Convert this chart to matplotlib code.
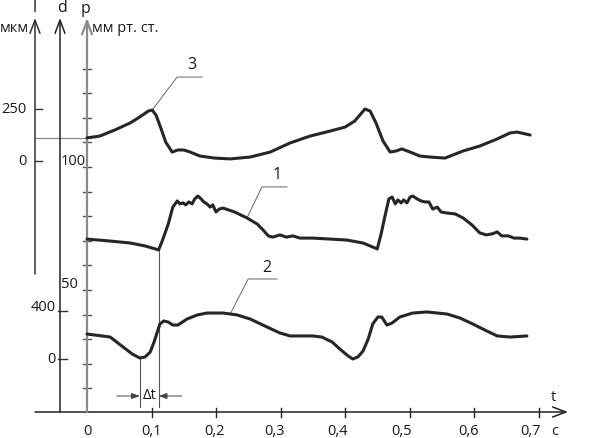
import numpy as np
import matplotlib
matplotlib.use("Agg")
import matplotlib.pyplot as plt

# ---------------- data ----------------
# curve 3 : l, мкм
t3 = [0.000, 0.020, 0.043, 0.067, 0.082, 0.095, 0.101, 0.107, 0.115, 0.122,
      0.132, 0.141, 0.150, 0.160, 0.175, 0.198, 0.222, 0.253, 0.284, 0.315,
      0.346, 0.377, 0.400, 0.415, 0.431, 0.439, 0.448, 0.459, 0.470, 0.479,
      0.488, 0.501, 0.516, 0.532, 0.555, 0.583, 0.609, 0.636, 0.656, 0.667,
      0.687]
l3 = [111, 120, 149, 183, 212, 240, 245, 221, 154, 91,
      43, 53, 53, 43, 24, 14, 10, 19, 43, 87,
      120, 144, 163, 192, 250, 240, 183, 96, 43, 48,
      58, 43, 24, 19, 14, 48, 72, 106, 135, 139,
      125]

# curve 1 : p, мм рт. ст.
t1 = [0.000, 0.036, 0.067, 0.090, 0.111, 0.116, 0.126, 0.133, 0.140, 0.144,
      0.149, 0.153, 0.158, 0.163, 0.167, 0.172, 0.177, 0.181, 0.186, 0.191,
      0.195, 0.200, 0.205, 0.211, 0.229, 0.248, 0.264, 0.273, 0.281, 0.288,
      0.299, 0.309, 0.319, 0.330, 0.350, 0.377, 0.403, 0.428, 0.450, 0.456,
      0.462, 0.468, 0.473, 0.478, 0.482, 0.487, 0.491, 0.496, 0.501, 0.505,
      0.512, 0.518, 0.524, 0.530, 0.536, 0.543, 0.549, 0.558, 0.571, 0.583,
      0.597, 0.609, 0.619, 0.628, 0.636, 0.643, 0.653, 0.662, 0.671, 0.682]
p1 = [70.7, 69.9, 69.1, 67.9, 66.3, 69.5, 76.8, 83.7, 86.2, 85.0,
      85.4, 84.6, 85.8, 85.0, 87.0, 88.2, 87.0, 85.8, 85.0, 83.7,
      84.6, 81.7, 82.9, 83.3, 81.7, 79.3, 76.8, 74.4, 72.0, 71.5,
      72.4, 71.5, 72.0, 71.1, 71.1, 70.7, 70.3, 69.1, 66.7, 72.8,
      80.1, 87.0, 87.8, 85.0, 86.6, 85.4, 86.6, 85.4, 87.8, 88.2,
      87.0, 86.2, 85.8, 85.8, 82.9, 83.7, 81.7, 81.3, 80.9, 79.3,
      76.4, 73.2, 72.4, 72.8, 73.6, 72.0, 72.0, 71.1, 71.1, 70.7]

# curve 2 : d
t2 = [0.000, 0.036, 0.056, 0.070, 0.082, 0.090, 0.098, 0.104, 0.109, 0.113,
      0.119, 0.126, 0.133, 0.141, 0.155, 0.171, 0.186, 0.211, 0.233, 0.253,
      0.279, 0.299, 0.315, 0.350, 0.364, 0.380, 0.392, 0.405, 0.412, 0.420,
      0.428, 0.436, 0.443, 0.451, 0.457, 0.465, 0.473, 0.485, 0.505, 0.527,
      0.558, 0.578, 0.598, 0.620, 0.636, 0.656, 0.682]
d2 = [208, 183, 100, 42, 8, 17, 58, 142, 225, 292,
      317, 308, 283, 283, 333, 367, 383, 383, 367, 333,
      267, 217, 192, 192, 183, 142, 83, 25, 0, 17,
      67, 167, 292, 350, 350, 283, 300, 350, 383, 392,
      375, 342, 292, 233, 192, 183, 192]

t_ticks = [0.1, 0.2, 0.3, 0.4, 0.5, 0.6, 0.7]
t_labels = ["0,1", "0,2", "0,3", "0,4", "0,5", "0,6", "0,7"]
t_label_pos = [0.100, 0.198, 0.290, 0.389, 0.487, 0.591, 0.687]
p_ticks = [10, 20, 30, 40, 50, 60, 70, 80, 90, 100, 110, 120, 130, 140]
p_labels = {100: "100", 50: "50"}
l_labels = {250: "250", 0: "0"}
d_labels = {400: "400", 0: "0"}

# ---------------- layout ----------------
W, H = 609, 439
T0_PX, PX_PER_S = 87, 645.0
plt.rcParams["font.family"] = ["Open Sans", "DejaVu Sans"]
fig = plt.figure(figsize=(W / 100, H / 100), dpi=100)
fig.patch.set_facecolor("white")

deco = fig.add_axes([0, 0, 1, 1])
deco.set_xlim(0, W)
deco.set_ylim(H, 0)
deco.axis("off")


def make_axes(y0px, scale):
    a = fig.add_axes([0, 0, 1, 1])
    a.set_xlim(-T0_PX / PX_PER_S, (W - T0_PX) / PX_PER_S)
    a.set_ylim((y0px - H) / scale, y0px / scale)
    a.axis("off")
    a.patch.set_alpha(0)
    return a


ax_p = make_axes(414, 2.46)   # p, mm Hg
ax_l = make_axes(162, 0.208)  # l, мкм
ax_d = make_axes(360, 0.12)   # d


def to_px(a, t, v):
    disp = a.transData.transform((t, v))
    return deco.transData.inverted().transform(disp)


CURVE = "#262626"
FS = 10.5
TXT = "#1a1a1a"

# ---------------- axes lines ----------------
def arrow_line(x0, y0, x1, y1, color, lw):
    deco.annotate("", xy=(x1, y1), xytext=(x0, y0),
                  arrowprops=dict(arrowstyle="->,head_length=0.95,head_width=0.36",
                                  color=color, lw=lw, shrinkA=0, shrinkB=0))

arrow_line(35, 413, 568, 413, "#222222", 1.1)
arrow_line(35, 275, 35, 19, "#333333", 1.1)
arrow_line(60, 413, 60, 19, "#222222", 1.1)
arrow_line(87, 413, 87, 19, "#8a8a8a", 1.6)

deco.text(35, 8, "l", fontsize=11.5, ha="center", va="center", color=TXT)
deco.text(62, 8, "d", fontsize=11.5, ha="center", va="center", color=TXT)
deco.text(86, 9, "p", fontsize=11.5, ha="center", va="center", color=TXT)
deco.text(0, 28, "мкм", fontsize=FS, ha="left", va="center", color=TXT)
deco.text(92, 28, "мм рт. ст.", fontsize=FS, ha="left", va="center", color=TXT)
deco.text(553, 398, "t", fontsize=FS, ha="center", va="center", color=TXT)
deco.text(555, 432, "с", fontsize=FS, ha="center", va="center", color=TXT)

# x ticks
deco.text(T0_PX, 432, "0", fontsize=FS, ha="center", va="center", color=TXT)
for t, lab, tl in zip(t_ticks, t_labels, t_label_pos):
    x, _ = to_px(ax_p, t, 0)
    deco.plot([x, x], [409, 418], color="#222222", lw=1.0)
    xl, _ = to_px(ax_p, tl, 0)
    deco.text(xl, 432, lab, fontsize=FS, ha="center", va="center", color=TXT)

# p ticks
for p in p_ticks:
    x, y = to_px(ax_p, 0, p)
    deco.plot([x - 4, x + 4], [y, y], color="#555555", lw=1.0)
    if p in p_labels:
        deco.text(61, y + 1, p_labels[p], fontsize=FS, ha="left", va="bottom", color=TXT)

# l ticks
for v, lab in l_labels.items():
    _, y = to_px(ax_l, 0, v)
    deco.plot([35, 42], [y, y], color="#333333", lw=1.0)
    deco.text(27, y, lab, fontsize=FS, ha="right", va="center", color=TXT)

# d ticks
for v, lab in d_labels.items():
    _, y = to_px(ax_d, 0, v)
    deco.plot([58, 67], [y, y], color="#333333", lw=1.0)
    dy = -4 if v == 400 else 0
    deco.text(56, y + dy, lab, fontsize=FS, ha="right", va="center", color=TXT)

# gray level line from l axis to start of curve 3
_, y3s = to_px(ax_l, t3[0], l3[0])
deco.plot([35, T0_PX], [y3s, y3s], color="#8a8a8a", lw=0.9)

# ---------------- curves ----------------
kw = dict(color=CURVE, lw=2.2, solid_joinstyle="round", solid_capstyle="round")
ax_l.plot(t3, l3, **kw)
ax_p.plot(t1, p1, **kw)
ax_d.plot(t2, d2, **kw)

# ---------------- leader lines ----------------
def leader(a, t, v, label, dx, dy, run, ldx, ldy):
    x, y = to_px(a, t, v)
    ex, ey = x + dx, y + dy
    deco.plot([x, ex, ex + run], [y, ey, ey], color="#666666", lw=0.7)
    deco.text(ex + ldx, ey + ldy, label, fontsize=11.5, ha="center", va="center", color=TXT)

i3 = int(np.argmax(l3[:15]))
leader(ax_l, t3[i3], l3[i3], "3", 25, -33, 25, 15, -13)
leader(ax_p, 0.248, float(np.interp(0.248, t1, p1)), "1", 15, -31, 25, 15, -13)
leader(ax_d, 0.222, float(np.interp(0.222, t2, d2)), "2", 18, -35, 29, 19, -12)

# ---------------- delta t ----------------
i2 = int(np.argmin(d2[:10]))
i1 = int(np.argmin(p1[:10]))
x2, y2 = to_px(ax_d, t2[i2], d2[i2])
x1, y1 = to_px(ax_p, t1[i1], p1[i1])
deco.plot([x2, x2], [y2, 408], color="#555555", lw=0.8)
deco.plot([x1, x1], [y1, 408], color="#555555", lw=0.8)
ah = dict(arrowstyle="-|>,head_length=0.5,head_width=0.18", color="#444444",
          lw=0.7, shrinkA=0, shrinkB=0)
deco.annotate("", xy=(x2, 397), xytext=(x2 - 23, 397), arrowprops=ah)
deco.annotate("", xy=(x1, 397), xytext=(x1 + 23, 397), arrowprops=ah)
deco.text((x1 + x2) / 2, 396, "Δt", fontsize=FS, ha="center", va="center", color=TXT)

fig.savefig("out.png", dpi=100, facecolor="white")
